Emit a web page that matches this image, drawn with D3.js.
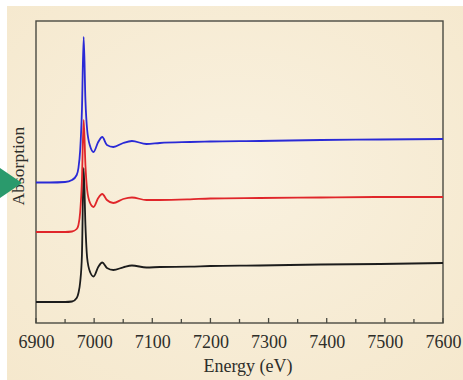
<!DOCTYPE html>
<html><head><meta charset="utf-8">
<script src="https://cdn.jsdelivr.net/npm/d3@7"></script>
<style>html,body{margin:0;padding:0;background:#fff;}svg{display:block;}</style>
</head><body>
<svg id="chart" width="463" height="380"></svg>
<script>
const energies = [6900,6924,6950,6962,6970,6973,6976,6979,6982,6985,6988,6993,6999,7007,7014,7022,7033,7050,7065,7090,7113,7165,7200,7285,7390,7492,7600];
const blueSeries  = [1.405,1.405,1.41,1.43,1.48,1.55,1.73,2.13,2.86,2.23,1.93,1.77,1.71,1.81,1.86,1.78,1.76,1.80,1.82,1.79,1.80,1.81,1.815,1.82,1.83,1.835,1.84];
const redSeries   = [0.91,0.91,0.91,0.915,0.94,0.98,1.11,1.43,2.03,1.58,1.33,1.20,1.16,1.25,1.29,1.23,1.20,1.24,1.255,1.23,1.23,1.237,1.245,1.25,1.255,1.26,1.26];
const blackSeries = [0.21,0.21,0.21,0.215,0.25,0.30,0.41,0.68,1.55,0.98,0.65,0.51,0.465,0.56,0.605,0.55,0.53,0.557,0.575,0.555,0.56,0.563,0.57,0.575,0.585,0.59,0.60];
const xTicks = [6900,7000,7100,7200,7300,7400,7500,7600];
const xLabel = "Energy (eV)";
const yLabel = "Absorption";

(function(){
const svg = d3.select("#chart");
svg.append("rect").attr("x",0).attr("y",0).attr("width",463).attr("height",380).attr("fill","#ffffff");
const defs = svg.append("defs");
const rg = defs.append("radialGradient").attr("id","bg").attr("cx","50%").attr("cy","45%").attr("r","75%");
rg.append("stop").attr("offset","0%").attr("stop-color","#f9f1df");
rg.append("stop").attr("offset","100%").attr("stop-color","#f5e8cd");
svg.append("rect").attr("x",7).attr("y",6).attr("width",456).attr("height",374).attr("fill","url(#bg)");

const pLeft=36,pRight=443,pTop=21,pBottom=323;
const x = d3.scaleLinear().domain([6900,7600]).range([pLeft,pRight]);
const y = d3.scaleLinear().domain([0,3.02]).range([pBottom,pTop]);

svg.append("rect").attr("x",pLeft).attr("y",pTop).attr("width",pRight-pLeft).attr("height",pBottom-pTop)
  .attr("fill","none").attr("stroke","#4a4a42").attr("stroke-width",1.4);

const fontFam = "'Liberation Serif','Times New Roman',serif";
const minor = d3.range(6950,7600,100);
const ax = svg.append("g").attr("transform",`translate(0,${pBottom})`);
ax.call(d3.axisBottom(x).tickValues(xTicks).tickSize(0).tickFormat(d3.format("d")).tickPadding(12));
ax.select(".domain").remove();
ax.selectAll("text").attr("font-family",fontFam).attr("font-size",18).attr("fill","#2e2e2a");
ax.selectAll("line.maj").data(xTicks).enter().append("line").attr("class","maj")
  .attr("x1",d=>x(d)).attr("x2",d=>x(d)).attr("y1",0).attr("y2",-5).attr("stroke","#4a4a42").attr("stroke-width",1.3);
ax.selectAll("line.min").data(minor).enter().append("line").attr("class","min")
  .attr("x1",d=>x(d)).attr("x2",d=>x(d)).attr("y1",0).attr("y2",-4).attr("stroke","#4a4a42").attr("stroke-width",1.3);

const line = d3.line().x((d,i)=>x(energies[i])).y(d=>y(d)).curve(d3.curveMonotoneX);
const series = [[blackSeries,"#1c1c1c"],[redSeries,"#e0262a"],[blueSeries,"#2a2ad6"]];
series.forEach(([s,c])=>{
  svg.append("path").attr("d",line(s)).attr("fill","none").attr("stroke",c).attr("stroke-width",1.8).attr("stroke-linejoin","round");
});

svg.append("text").attr("x",248).attr("y",372).attr("text-anchor","middle")
  .attr("font-family",fontFam).attr("font-size",18).attr("fill","#2e2e2a").text(xLabel);
svg.append("text").attr("transform","translate(24,166) rotate(-90)").attr("text-anchor","middle")
  .attr("font-family",fontFam).attr("font-size",17.5).attr("fill","#2e2e2a").text(yLabel);

svg.append("polygon").attr("points","0,168 22,183 0,198").attr("fill","#2a9a6c");
})();
</script>
</body></html>
